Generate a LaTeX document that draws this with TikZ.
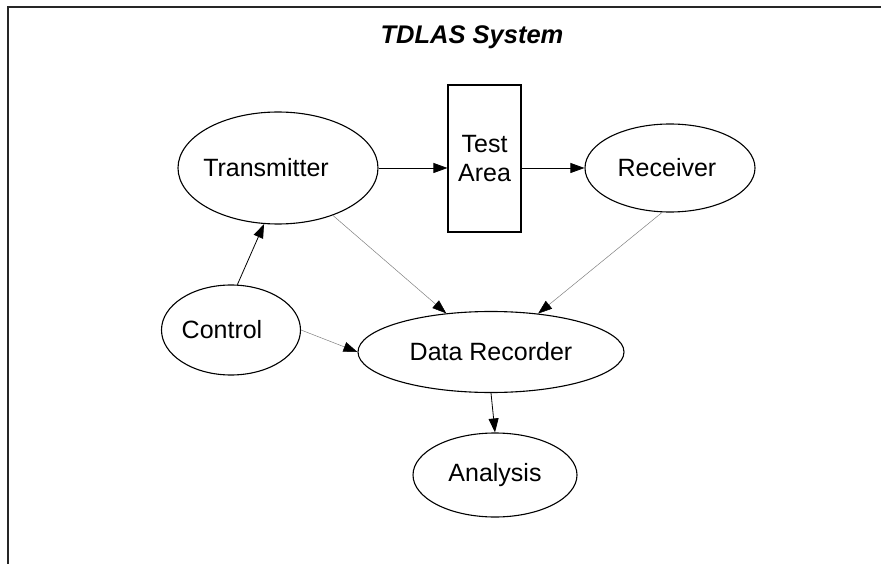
\documentclass[tikz,border=0pt]{standalone}
\usepackage{fontspec}
\setmainfont{Liberation Sans}
\usetikzlibrary{shapes.geometric, arrows.meta}

\begin{document}
\begin{tikzpicture}[x=1pt, y=-1pt,
  oval/.style={draw, ellipse, line width=1.1pt, inner sep=0pt},
  blk/.style={-{Triangle[length=14pt, width=10pt]}, line width=0.8pt},
  gry/.style={-{Triangle[length=14pt, width=10pt, color=black]}, draw=gray, line width=0.5pt}]
\useasboundingbox (0,0) rectangle (881,564);
% Rahmen oben und links
\draw[line width=1.8pt, black!85] (8,564) -- (8,7) -- (881,7);
\node[font=\fontsize{25.5}{28}\selectfont\bfseries\itshape] (title) at (472,37) {TDLAS System};
% Knoten
\node[oval, minimum width=200pt, minimum height=112pt, font=\fontsize{25}{28}\selectfont] (tx) at (278,168) {\hspace*{-24pt}Transmitter};
\node[draw, line width=1.1pt, minimum width=73pt, minimum height=147pt, align=center, font=\fontsize{25}{29}\selectfont] (ta) at (484.5,158.5) {Test\\Area};
\node[oval, minimum width=170pt, minimum height=88pt, font=\fontsize{25}{28}\selectfont] (rc) at (670,168) {\hspace*{-6pt}Receiver};
\node[oval, minimum width=139pt, minimum height=90pt, font=\fontsize{25}{28}\selectfont] (ctl) at (231,330) {\hspace*{-18pt}Control};
\node[oval, minimum width=266pt, minimum height=81pt, font=\fontsize{25}{28}\selectfont] (dr) at (491,352) {Data Recorder};
\node[oval, minimum width=164pt, minimum height=84pt, font=\fontsize{25}{28}\selectfont] (an) at (495,475) {Analysis};
% Verbindungen
\draw[blk] (tx.east) -- (tx.east -| ta.west);
\draw[blk] (ta.east |- rc.west) -- (rc.west);
\draw[blk] (ctl.82) -- (tx.-104);
\draw[gry] (tx) -- (dr);
\draw[gry] (rc.-100) -- (dr);
\draw[gry] (ctl.east) -- (dr.west);
\draw[blk] (dr.south) -- (an.north);
\end{tikzpicture}
\end{document}
